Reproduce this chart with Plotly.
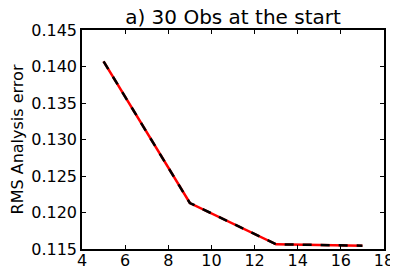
import plotly.graph_objects as go

obs_count = [5, 9, 13, 17]
rms_error = [0.1407, 0.1213, 0.11565, 0.11545]
x_ticks = [4, 6, 8, 10, 12, 14, 16, 18]
y_ticks = [0.115, 0.120, 0.125, 0.130, 0.135, 0.140, 0.145]
y_tick_text = ["%.3f" % v for v in y_ticks]

fig = go.Figure()
fig.add_trace(go.Scatter(x=obs_count, y=rms_error, mode="lines",
                         line=dict(color="red", width=2.5)))
fig.add_trace(go.Scatter(x=obs_count, y=rms_error, mode="lines",
                         line=dict(color="black", width=2.5, dash="9px,9px")))

axis_common = dict(showline=True, linecolor="black", linewidth=1.5, mirror="ticks",
                   ticks="inside", ticklen=4, tickwidth=1, tickcolor="black",
                   showgrid=False, zeroline=False, automargin=False,
                   tickfont=dict(family="DejaVu Sans", size=16, color="black"))

# page body has an 8px margin, so the figure is sized to fit the 398x270 window
fig.update_layout(
    width=390, height=262,
    margin=dict(l=74, r=14, t=22, b=21, autoexpand=False),
    paper_bgcolor="white", plot_bgcolor="white",
    showlegend=False,
    title=dict(text="a) 30 Obs at the start", x=0.5, xanchor="center",
               xref="paper", y=1, yref="container", yanchor="top", pad=dict(t=2),
               automargin=False,
               font=dict(family="DejaVu Sans", size=20, color="black")),
    xaxis=dict(range=[4, 18], tickvals=x_ticks, ticktext=[str(v) for v in x_ticks],
               ticklabelstandoff=-4, **axis_common),
    yaxis=dict(range=[0.115, 0.145], tickvals=y_ticks, ticktext=y_tick_text,
               title=dict(text="RMS Analysis error", standoff=6,
                          font=dict(family="DejaVu Sans", size=16, color="black")),
               **axis_common),
)

fig.write_html("out.html")
